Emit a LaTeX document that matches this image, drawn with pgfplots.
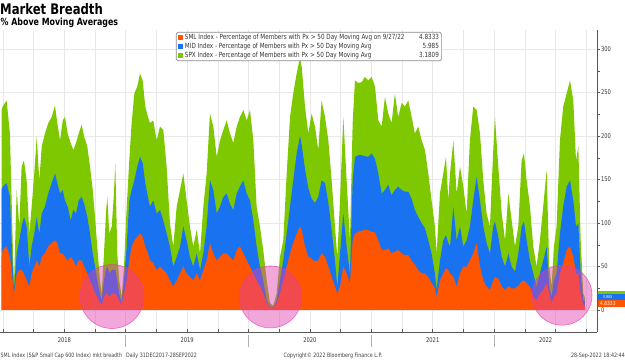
\documentclass[border=0pt]{standalone}
\usepackage{pgfplots}
\pgfplotsset{compat=1.18}
\usepackage{pgfplotstable}
\usepackage{fontspec}
\setmainfont{DejaVu Sans}[FakeStretch=0.8]
\newfontfamily\bb{DejaVu Sans}[FakeStretch=0.8]
\definecolor{sml}{RGB}{255,85,0}
\definecolor{mid}{RGB}{25,115,240}
\definecolor{spx}{RGB}{125,200,0}
\definecolor{circ}{RGB}{225,60,170}

% cumulative (stacked) tops: sml = SML, smlmid = SML+MID, total = SML+MID+SPX
\pgfplotstableread{
t sml smlmid total
2017.990 61 138 230
2017.998 69 142 234
2018.030 73 146 241
2018.057 61 130 203
2018.079 34 50 80
2018.090 19 23 31
2018.112 42 65 138
2018.133 46 80 96
2018.152 46 96 165
2018.171 42 107 172
2018.193 34 96 149
2018.215 27 50 88
2018.234 42 73 119
2018.255 50 88 157
2018.275 57 107 199
2018.296 50 88 149
2018.316 61 111 188
2018.342 65 119 203
2018.369 73 134 215
2018.397 77 146 222
2018.424 80 157 235
2018.443 77 146 215
2018.465 65 134 195
2018.487 65 138 218
2018.505 61 126 222
2018.527 57 119 203
2018.552 61 103 192
2018.573 57 115 184
2018.595 50 111 192
2018.617 57 126 203
2018.641 57 130 213
2018.662 50 122 199
2018.687 42 107 188
2018.709 34 88 165
2018.731 27 65 138
2018.750 19 50 107
2018.768 15 34 73
2018.790 8 19 34
2018.804 6 11 19
2018.823 15 34 65
2018.839 19 46 111
2018.850 19 50 130
2018.866 15 42 88
2018.886 19 46 96
2018.904 19 46 134
2018.915 19 46 169
2018.931 15 34 65
2018.947 11 19 34
2018.967 6 8 15
2018.986 19 34 50
2019.008 34 73 119
2019.029 57 126 172
2019.048 73 138 215
2019.070 80 149 249
2019.094 84 165 257
2019.116 88 176 272
2019.138 84 169 264
2019.159 73 146 234
2019.181 65 130 222
2019.197 57 119 215
2019.224 54 126 218
2019.252 46 111 195
2019.279 50 115 211
2019.306 46 103 207
2019.333 42 88 165
2019.360 34 73 100
2019.387 27 50 73
2019.415 34 61 119
2019.442 42 73 138
2019.469 50 96 157
2019.496 42 80 126
2019.523 38 61 96
2019.550 34 50 73
2019.578 42 65 92
2019.605 34 46 65
2019.632 46 65 119
2019.659 57 96 157
2019.686 77 149 226
2019.713 65 138 211
2019.741 57 111 176
2019.768 61 119 195
2019.795 65 130 207
2019.822 65 134 218
2019.849 61 122 203
2019.876 57 115 192
2019.904 69 134 211
2019.930 73 142 222
2019.958 65 149 230
2019.985 57 134 218
2020.012 50 126 230
2020.039 42 103 195
2020.066 34 73 119
2020.093 27 50 96
2020.120 19 34 69
2020.148 8 11 34
2020.175 4 4 8
2020.202 2 3 5
2020.229 8 11 19
2020.256 19 34 61
2020.283 34 57 80
2020.311 50 88 157
2020.338 65 119 222
2020.364 77 149 249
2020.392 88 180 272
2020.419 96 200 290
2020.433 92 190 280
2020.460 73 162 234
2020.487 61 140 203
2020.514 59 128 226
2020.541 56 123 211
2020.568 57 130 184
2020.595 65 149 241
2020.623 61 146 222
2020.650 50 123 195
2020.677 38 92 149
2020.704 27 57 96
2020.723 19 27 61
2020.745 27 65 126
2020.772 50 111 222
2020.799 42 73 149
2020.826 31 42 80
2020.848 80 149 215
2020.867 88 176 264
2020.894 90 178 261
2020.921 91 178 262
2020.948 92 177 268
2020.975 92 176 264
2021.003 90 180 268
2021.030 89 174 257
2021.057 80 157 218
2021.084 69 134 211
2021.111 69 138 245
2021.138 71 144 226
2021.165 65 132 215
2021.192 67 138 249
2021.219 69 142 222
2021.247 65 138 238
2021.274 63 136 234
2021.301 63 136 241
2021.328 57 128 222
2021.355 52 115 203
2021.382 46 107 211
2021.410 42 100 195
2021.437 42 94 184
2021.464 38 80 157
2021.491 31 65 126
2021.518 25 42 96
2021.532 15 23 65
2021.559 34 57 134
2021.586 42 80 157
2021.608 48 86 176
2021.627 46 77 126
2021.641 42 73 157
2021.668 38 119 195
2021.695 27 80 134
2021.722 42 96 165
2021.749 50 73 142
2021.776 50 80 111
2021.803 57 96 195
2021.830 65 126 234
2021.858 77 153 230
2021.885 50 126 203
2021.912 34 96 149
2021.939 27 77 111
2021.966 23 65 96
2021.993 34 96 184
2022.007 38 102 222
2022.034 36 84 165
2022.062 27 61 111
2022.089 23 50 80
2022.116 27 65 134
2022.143 25 50 103
2022.170 25 44 73
2022.197 28 65 96
2022.224 33 96 172
2022.243 34 102 180
2022.265 31 80 149
2022.292 27 57 119
2022.319 15 42 73
2022.346 11 27 50
2022.373 19 42 80
2022.400 23 57 119
2022.428 31 73 161
2022.449 19 27 50
2022.468 8 15 27
2022.487 15 34 73
2022.509 19 42 96
2022.536 42 88 195
2022.563 54 119 234
2022.591 69 142 249
2022.618 73 149 264
2022.645 61 126 241
2022.667 42 96 172
2022.686 42 100 188
2022.705 19 42 80
2022.726 6 11 19
2022.740 4.8 10.8 14
}\breadth

\begin{document}
\begin{tikzpicture}
\useasboundingbox (0bp,-28bp) rectangle (625bp,332bp);
\begin{axis}[
  at={(0bp,0bp)}, anchor=south west,
  scale only axis, width=597bp, height=302bp,
  xmin=2017.976, xmax=2022.838, ymin=-25.3, ymax=322,
  clip mode=individual,
  axis x line*=bottom, axis y line*=right,
  axis line style={draw=black!65, line width=0.6pt},
  xtick={2018,2018.25,...,2022.75},
  xticklabels={},
  minor x tick num=2,
  ytick={0,50,...,300},
  minor y tick num=1,
  tick align=inside,
  major tick length=3bp, minor tick length=2bp,
  tick style={black!65, line width=0.5pt},
  ytick style={xshift=3bp},
  xmajorgrids, ymajorgrids,
  major grid style={black!9, line width=0.5pt},
  extra x ticks={2018.5,2019.5,2020.5,2021.5,2022.42},
  extra x tick labels={2018,2019,2020,2021,2022},
  extra x tick style={grid=none, major tick length=0pt, xticklabel style={yshift=-2.5bp}},
  tick label style={font=\bb\fontsize{6.5}{7}\selectfont, text=black!80},
  /pgf/number format/assume math mode=true,
  yticklabel style={xshift=0.5bp},
  reverse legend,
  legend cell align=left,
  legend image code/.code={\fill[#1, sharp corners] (0bp,-2.6bp) rectangle (5.2bp,2.6bp);},
  legend style={at={(rel axis cs:0.2948,0.9934)}, anchor=north west,
    font=\bb\fontsize{7.1}{8}\selectfont, text=black!80,
    draw=black!45, line width=0.7pt, rounded corners=1.5pt, fill=white,
    inner xsep=1.5bp, inner ysep=1.2bp, row sep=0pt, column sep=1bp,
    nodes={inner sep=0.9bp}},
]
\addplot[fill=spx, draw=none] table[x=t,y=total]{\breadth} \closedcycle;
\addlegendentry{\makebox[254bp]{SPX Index - Percentage of Members with Px > 50 Day Moving Avg\hfill 3.1809}}
\addplot[fill=mid, draw=none] table[x=t,y=smlmid]{\breadth} \closedcycle;
\addlegendentry{\makebox[254bp]{MID Index - Percentage of Members with Px > 50 Day Moving Avg\hfill 5.985}}
\addplot[fill=sml, draw=none] table[x=t,y=sml]{\breadth} \closedcycle;
\addlegendentry{\makebox[254bp]{SML Index - Percentage of Members with Px > 50 Day Moving Avg on 9/27/22\hfill 4.8333}}

\fill[circ, fill opacity=0.45, draw=circ, draw opacity=0.7, line width=0.6pt] (axis cs:2018.888,15.5) circle[radius=32bp];
\fill[circ, fill opacity=0.45, draw=circ, draw opacity=0.7, line width=0.6pt] (axis cs:2020.179,15) circle[radius=31bp];
\fill[circ, fill opacity=0.45, draw=circ, draw opacity=0.7, line width=0.6pt] (axis cs:2022.553,17) circle[radius=30bp];

\draw[black!30, line width=0.6pt] (axis cs:2019,-25.3) ++(0bp,-3bp) -- ++(0bp,-12bp);
\draw[black!30, line width=0.6pt] (axis cs:2020,-25.3) ++(0bp,-3bp) -- ++(0bp,-12bp);
\draw[black!30, line width=0.6pt] (axis cs:2021,-25.3) ++(0bp,-3bp) -- ++(0bp,-12bp);
\draw[black!30, line width=0.6pt] (axis cs:2022,-25.3) ++(0bp,-3bp) -- ++(0bp,-12bp);
\end{axis}

% value tags at the right edge
\fill[spx] (598bp,38bp) rectangle (625bp,41bp);
\fill[mid] (598bp,32bp) rectangle (625bp,38bp);
\node[anchor=west, inner sep=0, text=white, font=\bb\fontsize{4}{4}\selectfont] at (603bp,35bp) {5.985};
\fill[sml] (598bp,25bp) rectangle (625bp,32bp);
\node[anchor=west, inner sep=0, text=white, font=\bb\fontsize{5.5}{6}\selectfont] at (600bp,28.5bp) {4.8333};

% titles
\node[anchor=base west, inner sep=0, font=\bb\bfseries\fontsize{14.6}{16}\selectfont] at (0bp,317bp) {Market Breadth};
\node[anchor=base west, inner sep=0, font=\bb\bfseries\fontsize{9.9}{11}\selectfont] at (0.5bp,306bp) {\% Above Moving Averages};

% footer
\node[anchor=base west, inner sep=0, text=black!75, font=\bb\fontsize{6}{7}\selectfont] at (0.5bp,-25bp) {SML Index (S\&P Small Cap 600 Index) mkt breadth\hspace{4bp}Daily 31DEC2017-28SEP2022};
\node[anchor=base, inner sep=0, text=black!75, font=\bb\fontsize{6}{7}\selectfont] at (333bp,-25bp) {Copyright© 2022 Bloomberg Finance L.P.};
\node[anchor=base east, inner sep=0, text=black!75, font=\bb\fontsize{6}{7}\selectfont] at (625bp,-25bp) {28-Sep-2022 18:42:44};
\end{tikzpicture}
\end{document}
